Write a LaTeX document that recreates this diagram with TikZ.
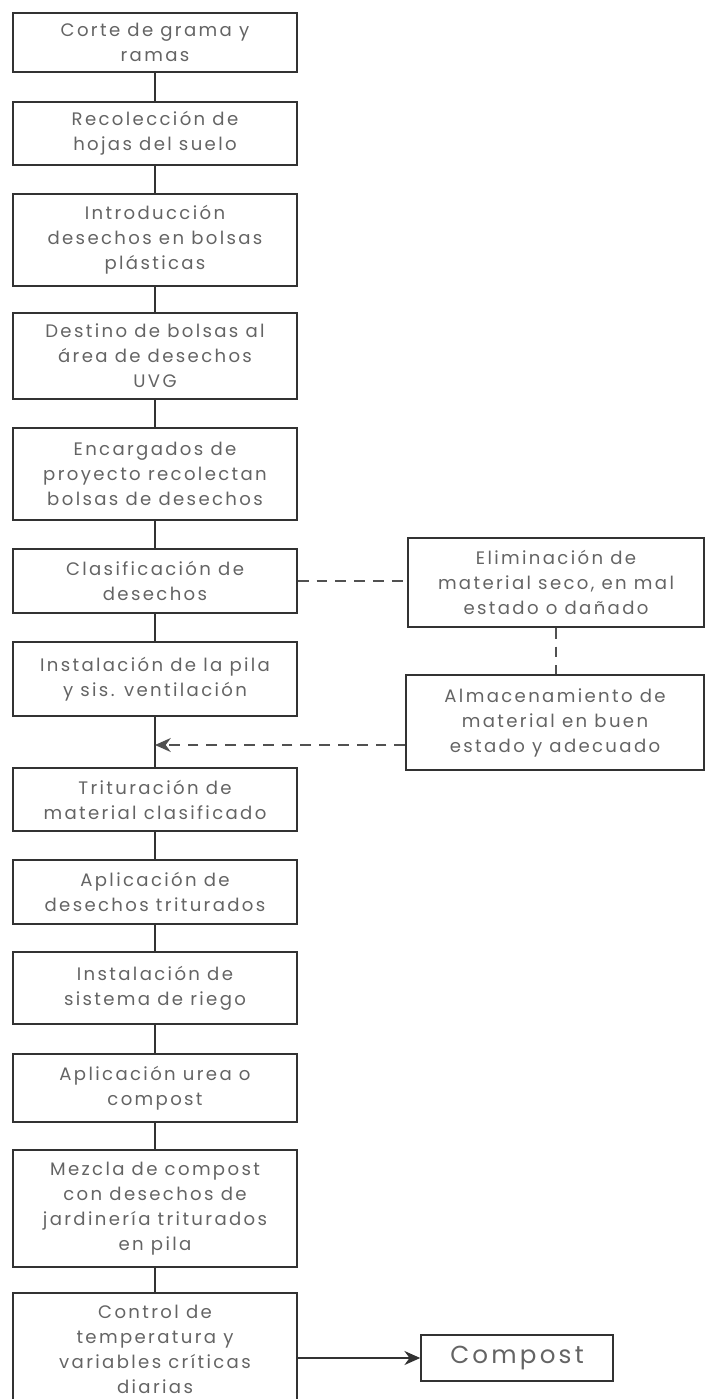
\documentclass[tikz,border=0pt]{standalone}
\usepackage{fontspec}
\setmainfont{Poppins}[LetterSpace=13]
\usetikzlibrary{arrows.meta,positioning,calc}
\definecolor{boxline}{RGB}{50,50,50}
\definecolor{boxtext}{RGB}{100,100,100}
\tikzset{
  procbox/.style={draw=boxline, line width=0.9pt, minimum width=5.68cm, inner sep=0pt,
    align=center, text=boxtext, font=\fontsize{10.3pt}{14.2pt}\selectfont},
  sidebox/.style={procbox, minimum width=5.92cm},
  link/.style={draw=boxline, line width=1.1pt},
  dashlink/.style={draw=boxline!85, line width=1pt, dash pattern=on 6.2pt off 4.5pt},
}

\begin{document}
\begin{tikzpicture}[x=0.02cm, y=-0.02cm]
    \useasboundingbox (0,0) rectangle (706,1399);

    % Main column
    \node[procbox, minimum height=1.18cm] (corte) at (155,42.5) {Corte de grama y\\ramas};
    \node[procbox, minimum height=1.26cm] (recoleccion) at (155,133.5) {Recolección de\\hojas del suelo};
    \node[procbox, minimum height=1.84cm] (introduccion) at (155,240) {Introducción\\desechos en bolsas\\plásticas};
    \node[procbox, minimum height=1.72cm] (destino) at (155,356) {Destino de bolsas al\\área de desechos\\UVG};
    \node[procbox, minimum height=1.84cm] (encargados) at (155,474) {Encargados de\\proyecto recolectan\\bolsas de desechos};
    \node[procbox, minimum height=1.28cm] (clasif) at (155,581) {Clasificación de\\desechos};
    \node[procbox, minimum height=1.48cm] (pila) at (155,679) {Instalación de la pila\\y sis. ventilación};
    \node[procbox, minimum height=1.26cm] (trituracion) at (155,799.5) {Trituración de\\material clasificado};
    \node[procbox, minimum height=1.28cm] (aplicacion) at (155,892) {Aplicación de\\desechos triturados};
    \node[procbox, minimum height=1.44cm] (riego) at (155,988) {Instalación de\\sistema de riego};
    \node[procbox, minimum height=1.36cm] (urea) at (155,1088) {Aplicación urea o\\compost};
    \node[procbox, minimum height=2.34cm] (mezcla) at (155,1208.5) {Mezcla de compost\\con desechos de\\jardinería triturados\\en pila};
    \node[procbox, minimum height=2.24cm] (control) at (155,1349) {Control de\\temperatura y\\variables críticas\\diarias};

    % Side branch
    \node[sidebox, minimum height=1.78cm] (elim) at (556,582.5) {Eliminación de\\material seco, en mal\\estado o dañado};
    \node[sidebox, minimum width=5.96cm, minimum height=1.9cm] (almac) at (555,722.5) {Almacenamiento de\\material en buen\\estado y adecuado};
    \node[procbox, minimum width=3.84cm, minimum height=0.92cm, font=\fontsize{14pt}{16pt}\selectfont] (compost) at (517,1358) {Compost};

    % Solid links
    \draw[link] (corte) -- (recoleccion);
    \draw[link] (recoleccion) -- (introduccion);
    \draw[link] (introduccion) -- (destino);
    \draw[link] (destino) -- (encargados);
    \draw[link] (encargados) -- (clasif);
    \draw[link] (clasif) -- (pila);
    \draw[link] (pila) -- (trituracion);
    \draw[link] (trituracion) -- (aplicacion);
    \draw[link] (aplicacion) -- (riego);
    \draw[link] (riego) -- (urea);
    \draw[link] (urea) -- (mezcla);
    \draw[link] (mezcla) -- (control);
    \draw[link, -{Stealth[length=9pt, width=8pt]}] (control.east |- compost.west) -- (compost.west);

    % Dashed links
    \coordinate (joint) at (155,745);
    \draw[dashlink] (clasif.east) -- (clasif.east -| elim.west);
    \draw[dashlink] (elim.south) -- (elim.south |- almac.north);
    \draw[dashlink, -{Stealth[length=9pt, width=8pt]}] (almac.west |- joint) -- (joint);
\end{tikzpicture}
\end{document}
